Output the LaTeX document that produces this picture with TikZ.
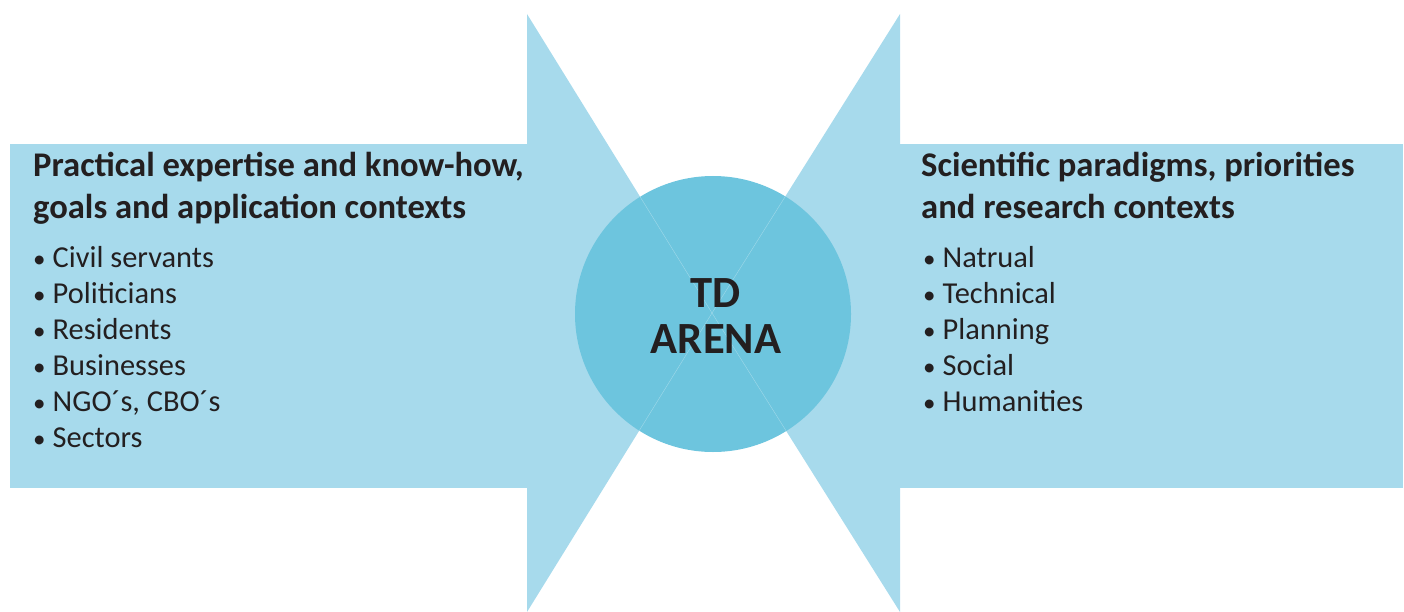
\documentclass[tikz,border=0pt]{standalone}
\usepackage{fontspec}
\setmainfont{Carlito}
\definecolor{lightblue}{HTML}{A7DAEC}
\definecolor{midblue}{HTML}{6DC5DE}
\definecolor{txt}{HTML}{231F20}
\newcommand{\bul}{\makebox[19.5pt][l]{\fontsize{25}{30}\selectfont •}}
\begin{document}
\begin{tikzpicture}[x=1pt,y=-1pt,
  title/.style={anchor=base west,inner sep=0pt,font=\fontsize{34.6}{40}\selectfont\bfseries,text=txt},
  item/.style={anchor=base west,inner sep=0pt,font=\fontsize{30.4}{36}\selectfont,text=txt},
  center/.style={anchor=base,inner sep=0pt,font=\fontsize{44.6}{50}\selectfont\bfseries,text=txt}]
\useasboundingbox (0,0) rectangle (1404,612);
\begin{scope}
\clip (0,0) rectangle (1404,612);
% left arrow
\fill[lightblue] (10,144) rectangle (527,488);
\fill[lightblue] (527,14) -- (712,313) -- (527,612) -- cycle;
% right arrow
\fill[lightblue] (900,144) rectangle (1403,488);
\fill[lightblue] (900,14) -- (712,313) -- (900,612) -- cycle;
\end{scope}
% circle
\node[circle,fill=midblue,minimum size=276pt,inner sep=0pt] (c) at (713,314) {};
\coordinate (lt) at (527,14);
\coordinate (lb) at (527,612);
\coordinate (rt) at (900,14);
\coordinate (rb) at (900,612);
\coordinate (tip) at (712,313);
\begin{scope}
\clip (713,314) circle (138);
\draw[white,opacity=0.35,line width=0.4pt] (lt) -- (tip) -- (lb);
\draw[white,opacity=0.35,line width=0.4pt] (rt) -- (tip) -- (rb);
\end{scope}
\node[center] (td) at (716,307) {TD};
\node[center] (ar) at (716,353) {ARENA};
% left text
\node[title] (lt1) at (33,177) {Practical expertise and know-how,};
\node[title] (lt2) at (33,219) {goals and application contexts};
\foreach \t [count=\i] in {Civil servants,Politicians,Residents,Businesses,{NGO´s, CBO´s},Sectors}
  \node[item] (li\i) at (33,231+36*\i) {\bul\t};
% right text
\node[title] (rt1) at (921,177) {Scientific paradigms, priorities};
\node[title] (rt2) at (921,219) {and research contexts};
\foreach \t [count=\i] in {Natrual,Technical,Planning,Social,Humanities}
  \node[item] (ri\i) at (923,231+36*\i) {\bul\t};
\end{tikzpicture}
\end{document}
